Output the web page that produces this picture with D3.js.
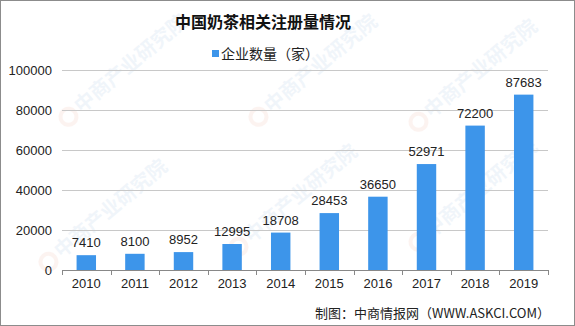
<!DOCTYPE html>
<html>
<head>
<meta charset="utf-8">
<script src="https://cdn.jsdelivr.net/npm/d3@7"></script>
<style>
  body { margin: 0; background: #fff; }
  text { font-family: "Liberation Sans", "Noto Sans CJK SC", sans-serif; }
  .cjk { font-family: "Noto Sans CJK SC", sans-serif; }
</style>
</head>
<body>
<div id="chart"></div>
<script>
var years = ["2010", "2011", "2012", "2013", "2014", "2015", "2016", "2017", "2018", "2019"];
var counts = [7410, 8100, 8952, 12995, 18708, 28453, 36650, 52971, 72200, 87683];
var yTicks = [0, 20000, 40000, 60000, 80000, 100000];

var width = 575, height = 326;
var plotLeft = 62, plotRight = 548, plotTop = 70, plotBottom = 270;
var blue = "#3d95ea";

var svg = d3.select("#chart").append("svg")
    .attr("width", width)
    .attr("height", height);

svg.append("rect")
    .attr("x", 0.5).attr("y", 0.5)
    .attr("width", width - 1).attr("height", height - 1)
    .attr("fill", "#fff")
    .attr("stroke", "#8c8c8c");

// faint watermarks
var marks = [[80, 115], [270, 115], [430, 120], [60, 260], [250, 245], [430, 240]];
marks.forEach(function(m) {
    var g = svg.append("g")
        .attr("transform", "translate(" + m[0] + "," + m[1] + ") rotate(-40)")
        .attr("opacity", 0.07);
    g.append("circle").attr("cx", -10).attr("cy", -6).attr("r", 8)
        .attr("fill", "none").attr("stroke", "#e0603a").attr("stroke-width", 4);
    g.append("text").attr("class", "cjk")
        .attr("x", 2).attr("y", 0)
        .attr("font-size", 20).attr("font-weight", "bold")
        .attr("fill", "#3d7fc4")
        .text("中商产业研究院");
});

var x = d3.scaleBand().domain(years).range([plotLeft, plotRight]).paddingInner(0.6).paddingOuter(0.3);
var y = d3.scaleLinear().domain([0, 100000]).range([plotBottom, plotTop]);

// gridlines
svg.append("g")
    .selectAll("line")
    .data(yTicks.filter(function(d) { return d > 0; }))
    .enter().append("line")
    .attr("x1", plotLeft).attr("x2", plotRight)
    .attr("y1", function(d) { return y(d) + 0.5; })
    .attr("y2", function(d) { return y(d) + 0.5; })
    .attr("stroke", "#c8c8c8");

// y axis labels
svg.append("g")
    .selectAll("text")
    .data(yTicks)
    .enter().append("text")
    .attr("x", plotLeft - 10)
    .attr("y", function(d) { return y(d); })
    .attr("dy", "0.35em")
    .attr("text-anchor", "end")
    .attr("font-size", 13)
    .attr("fill", "#222")
    .text(function(d) { return d; });

// bars
svg.append("g")
    .selectAll("rect")
    .data(counts)
    .enter().append("rect")
    .attr("x", function(d, i) { return x(years[i]); })
    .attr("y", function(d) { return y(d); })
    .attr("width", x.bandwidth())
    .attr("height", function(d) { return plotBottom - y(d); })
    .attr("fill", blue);

// value labels
svg.append("g")
    .selectAll("text")
    .data(counts)
    .enter().append("text")
    .attr("x", function(d, i) { return x(years[i]) + x.bandwidth() / 2; })
    .attr("y", function(d) { return y(d) - 8; })
    .attr("text-anchor", "middle")
    .attr("font-size", 13)
    .attr("fill", "#222")
    .text(function(d) { return d; });

// x axis
var step = (plotRight - plotLeft) / years.length;
svg.append("line")
    .attr("x1", plotLeft).attr("x2", plotRight)
    .attr("y1", plotBottom + 0.5).attr("y2", plotBottom + 0.5)
    .attr("stroke", "#888");
svg.append("g")
    .selectAll("line")
    .data(d3.range(years.length + 1))
    .enter().append("line")
    .attr("x1", function(i) { return Math.round(plotLeft + i * step) + 0.5; })
    .attr("x2", function(i) { return Math.round(plotLeft + i * step) + 0.5; })
    .attr("y1", plotBottom).attr("y2", plotBottom + 5)
    .attr("stroke", "#888");
svg.append("g")
    .selectAll("text")
    .data(years)
    .enter().append("text")
    .attr("x", function(d) { return x(d) + x.bandwidth() / 2; })
    .attr("y", plotBottom + 18)
    .attr("text-anchor", "middle")
    .attr("font-size", 13)
    .attr("fill", "#222")
    .text(function(d) { return d; });

// title
svg.append("text").attr("class", "cjk")
    .attr("x", 263).attr("y", 28)
    .attr("text-anchor", "middle")
    .attr("font-size", 16)
    .attr("font-weight", "bold")
    .attr("fill", "#111")
    .text("中国奶茶相关注册量情况");

// legend
svg.append("rect")
    .attr("x", 212).attr("y", 50)
    .attr("width", 7).attr("height", 7)
    .attr("fill", blue);
svg.append("text").attr("class", "cjk")
    .attr("x", 221).attr("y", 59)
    .attr("font-size", 14)
    .attr("fill", "#222")
    .text("企业数量（家）");

// source
svg.append("text").attr("class", "cjk")
    .attr("x", 550).attr("y", 318)
    .attr("text-anchor", "end")
    .attr("font-size", 13)
    .attr("fill", "#222")
    .text("制图：中商情报网（WWW.ASKCI.COM）");
</script>
</body>
</html>
